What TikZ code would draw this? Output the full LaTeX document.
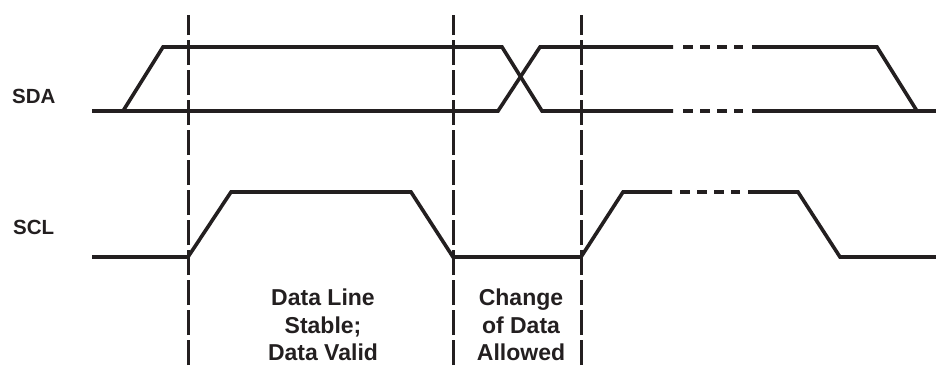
\documentclass[tikz,border=0pt]{standalone}
\usepackage{fontspec}
\setmainfont{Liberation Sans}
\definecolor{ink}{HTML}{231F20}
\begin{document}
\begin{tikzpicture}[x=1pt,y=-1pt,
  sig/.style={draw=ink,line width=3.6pt,line join=miter,line cap=butt},
  dots/.style={draw=ink,line width=3.6pt,dash pattern=on 10pt off 7pt},
  guide/.style={draw=ink,line width=3pt,dash pattern=on 25pt off 5pt},
  lab/.style={text=ink,font=\bfseries\fontsize{20.5}{24}\selectfont,anchor=base west,inner sep=0pt},
  note/.style={text=ink,font=\bfseries\fontsize{23}{28}\selectfont,anchor=base,inner sep=0pt}]
\useasboundingbox (0,0) rectangle (936,365);
% guide lines (drawn upward from the bottom)
\draw[guide] (188,365) -- (188,15);
\draw[guide] (453,365) -- (453,15);
\draw[guide] (581,365) -- (581,15);
% SDA
\draw[sig] (92,111) -- (123,111) -- (163,47) -- (502,47) -- (542,111) -- (673,111);
\draw[sig] (123,111) -- (498,111) -- (540,47) -- (673,47);
\draw[dots] (683,47) -- (743,47);
\draw[dots] (683,111) -- (743,111);
\draw[sig] (752,47) -- (877,47) -- (917,111);
\draw[sig] (752,111) -- (936,111);
% SCL
\draw[sig] (92,257) -- (188,257) -- (231,192) -- (411,192) -- (453,257) -- (581,257) -- (623,192) -- (672,192);
\draw[dots] (680,192) -- (740,192);
\draw[sig] (748,192) -- (798,192) -- (840,257) -- (936,257);
% labels
\node[lab] (sda) at (12,103) {SDA};
\node[lab] (scl) at (13,234) {SCL};
\node[note] (s1) at (323,305) {Data Line};
\node[note] (s2) at (323,333) {Stable;};
\node[note] (s3) at (323,360) {Data Valid};
\node[note] (c1) at (521,305) {Change};
\node[note] (c2) at (521,333) {of Data};
\node[note] (c3) at (521,360) {Allowed};
\end{tikzpicture}
\end{document}
